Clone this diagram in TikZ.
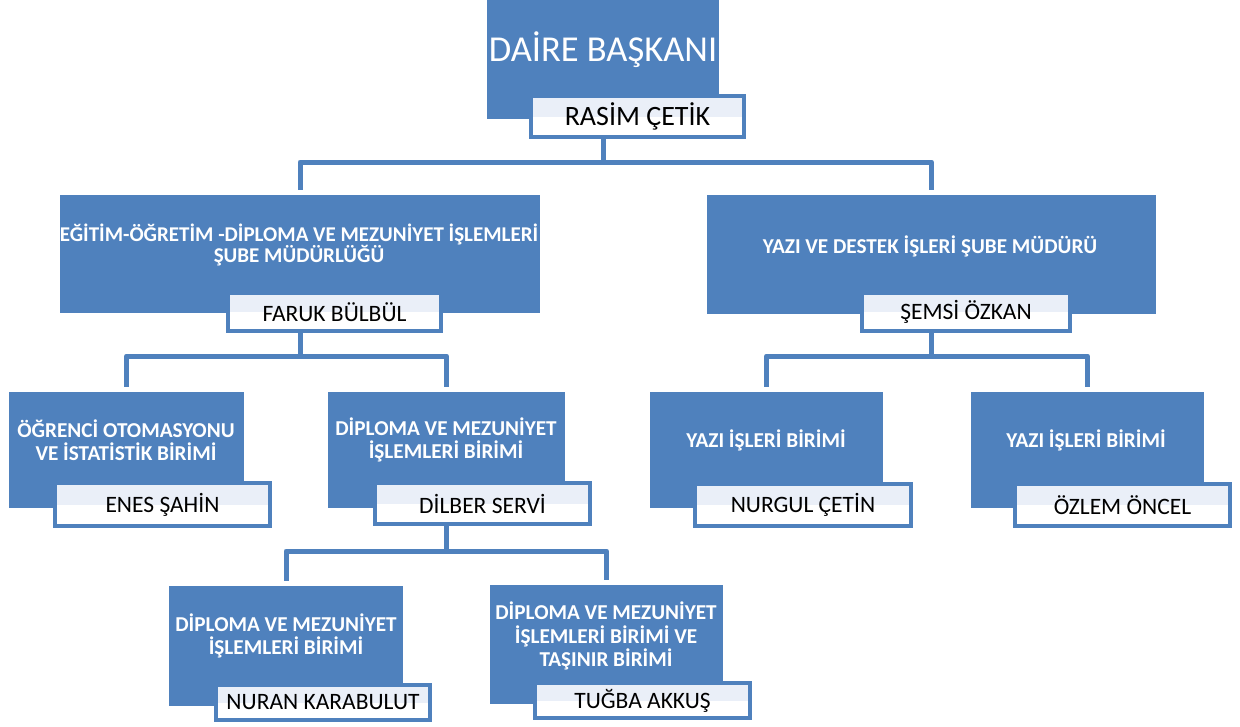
\documentclass[tikz,border=0pt]{standalone}
\usepackage{fontspec}
\setmainfont{Carlito}
\definecolor{obl}{HTML}{4F81BD}
\definecolor{nbg}{HTML}{EAEFF8}
\tikzset{
  bbox/.style={fill=obl, draw=none, inner sep=0pt, outer sep=0pt, anchor=north west},
  nbox/.style={fill=white,
    path picture={\fill[nbg] (path picture bounding box.north west) rectangle (path picture bounding box.east);},
    postaction={draw=obl, line width=3.5pt},
    anchor=north west, inner sep=0pt, outer sep=0pt, text=black, font=\fontsize{23.5}{25}\selectfont},
  btext/.style={text=white, font=\bfseries\fontsize{21.2}{23.5}\selectfont, align=center, inner sep=0pt},
  conn/.style={draw=obl, line width=5pt, line join=round, shorten >=5pt}
}
\begin{document}
\begin{tikzpicture}[x=1pt,y=-1pt]
\useasboundingbox (0,0) rectangle (1240,726);
% blue boxes
\node[bbox, minimum width=232pt, minimum height=119pt] (b0) at (487,0) {};
\node[bbox, minimum width=480pt, minimum height=118pt] (b1) at (60,195) {};
\node[bbox, minimum width=449pt, minimum height=119pt] (b2) at (707,195) {};
\node[bbox, minimum width=235pt, minimum height=116pt] (b3) at (9,392) {};
\node[bbox, minimum width=237pt, minimum height=116pt] (b4) at (328,392) {};
\node[bbox, minimum width=233pt, minimum height=116pt] (b5) at (650,392) {};
\node[bbox, minimum width=233pt, minimum height=116pt] (b6) at (971,392) {};
\node[bbox, minimum width=234pt, minimum height=120pt] (b7) at (169,586) {};
\node[bbox, minimum width=233pt, minimum height=119pt] (b8) at (490,585) {};
% texts in blue boxes
\node[text=white, font=\fontsize{36.5}{40}\selectfont, inner sep=0pt] (t0) at (603,50) {DAİRE BAŞKANI};
\node[btext, font=\bfseries\fontsize{21}{21}\selectfont] (t1) at (299,245) {EĞİTİM-ÖĞRETİM -DİPLOMA VE MEZUNİYET İŞLEMLERİ\\ŞUBE MÜDÜRLÜĞÜ};
\node[btext] (t2) at (930,246) {YAZI VE DESTEK İŞLERİ ŞUBE MÜDÜRÜ};
\node[btext] (t3) at (126,440) {ÖĞRENCİ OTOMASYONU\\VE İSTATİSTİK BİRİMİ};
\node[btext] (t4) at (446,440) {DİPLOMA VE MEZUNİYET\\İŞLEMLERİ BİRİMİ};
\node[btext] (t5) at (766,440) {YAZI İŞLERİ BİRİMİ};
\node[btext] (t6) at (1086,440) {YAZI İŞLERİ BİRİMİ};
\node[btext] (t7) at (286,636) {DİPLOMA VE MEZUNİYET\\İŞLEMLERİ BİRİMİ};
\node[btext] (t8) at (606,636) {DİPLOMA VE MEZUNİYET\\İŞLEMLERİ BİRİMİ VE\\TAŞINIR BİRİMİ};
% name boxes
\node[nbox, minimum width=213pt, minimum height=41pt, font=\fontsize{28}{30}\selectfont] (n0) at (531,96) {RASİM ÇETİK};
\node[nbox, minimum width=213pt, minimum height=38pt] (n1) at (228,293) {FARUK BÜLBÜL};
\node[nbox, minimum width=208pt, minimum height=38pt] (n2) at (862,293) {ŞEMSİ ÖZKAN};
\node[nbox, minimum width=215pt, minimum height=43pt] (n3) at (55,483) {ENES ŞAHİN};
\node[nbox, minimum width=215pt, minimum height=41pt] (n4) at (375,483) {DİLBER SERVİ};
\node[nbox, minimum width=216pt, minimum height=42pt] (n5) at (695,484) {NURGUL ÇETİN};
\node[nbox, minimum width=215pt, minimum height=42pt] (n6) at (1015,484) {ÖZLEM ÖNCEL};
\node[nbox, minimum width=214pt, minimum height=35pt] (n7) at (216,685) {NURAN KARABULUT};
\node[nbox, minimum width=215pt, minimum height=35pt] (n8) at (535,683) {TUĞBA AKKUŞ};
% connectors
\draw[conn] (b0.south |- n0.south) -- ++(0,25) -| (b1.north);
\draw[conn] (b0.south |- n0.south) -- ++(0,25) -| (b2.north);
\draw[conn] (b1.south |- n1.south) -- ++(0,25) -| (b3.north);
\draw[conn] (b1.south |- n1.south) -- ++(0,25) -| (b4.north);
\draw[conn] (b2.south |- n2.south) -- ++(0,25) -| (b5.north);
\draw[conn] (b2.south |- n2.south) -- ++(0,25) -| (b6.north);
\draw[conn] (b4.south |- n4.south) -- ++(0,27) -| (b7.north);
\draw[conn] (b4.south |- n4.south) -- ++(0,27) -| (b8.north);
\end{tikzpicture}
\end{document}
